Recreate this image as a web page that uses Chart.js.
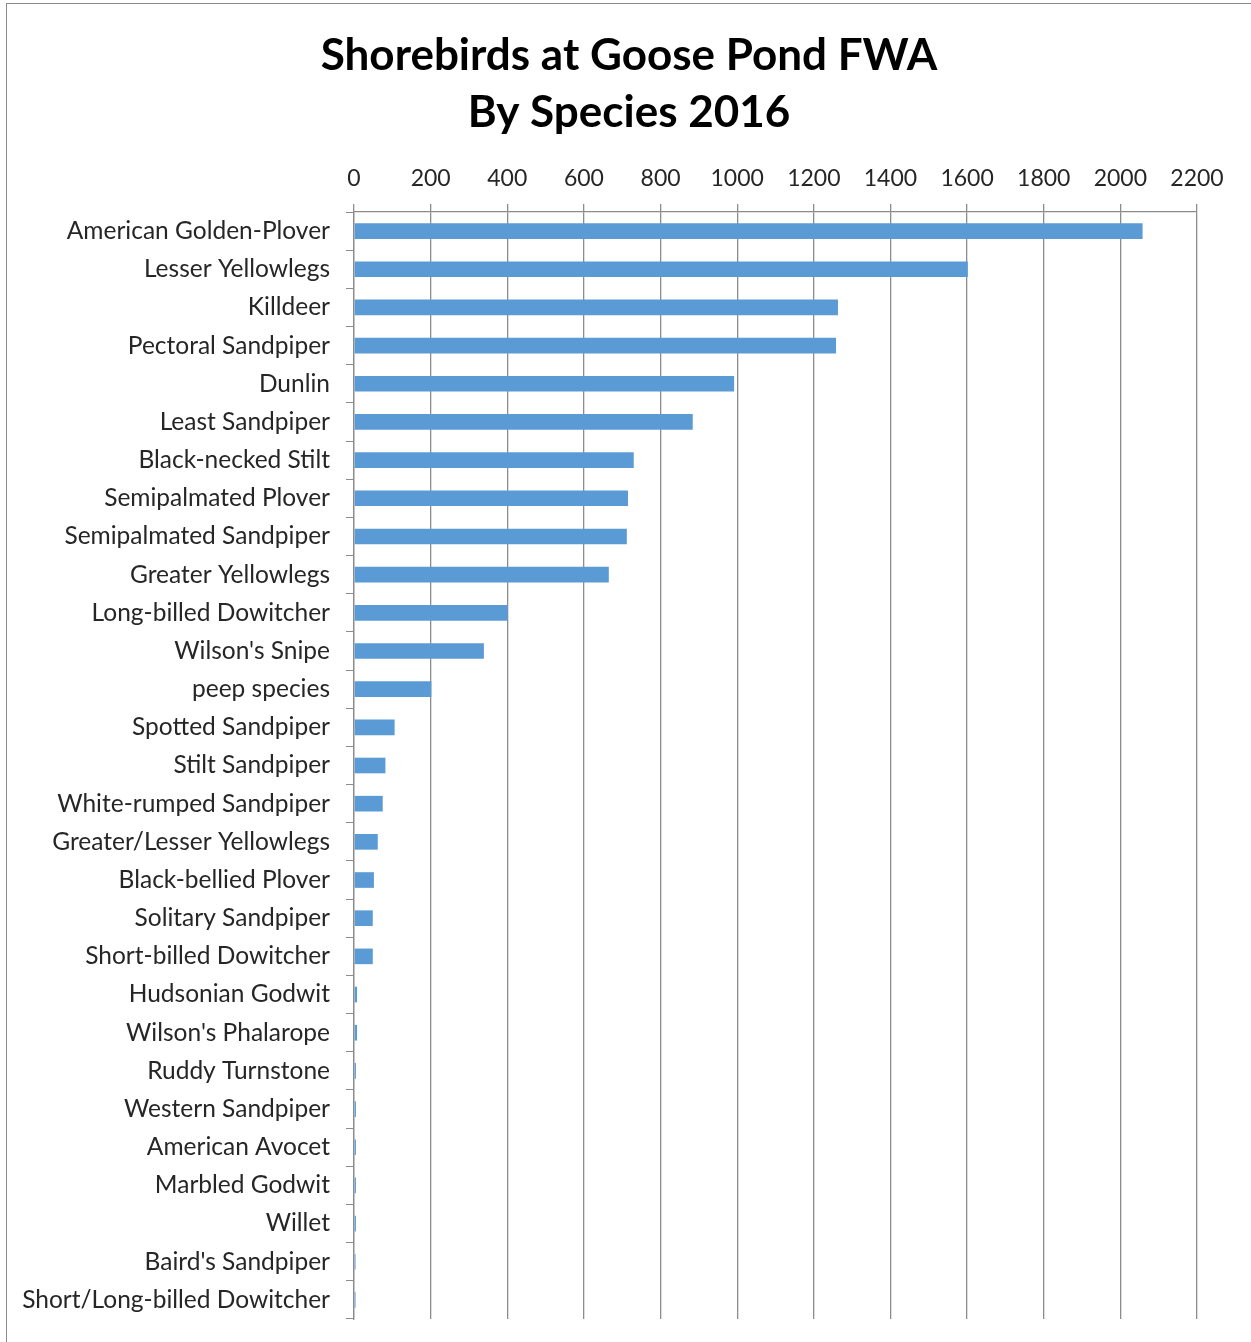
<!DOCTYPE html>
<html>
<head>
<meta charset="utf-8">
<script src="https://cdn.jsdelivr.net/npm/chart.js@4"></script>
<style>
    html, body { margin: 0; padding: 0; background: #fff; overflow: hidden; }
    #frame {
        position: absolute;
        left: 6px;
        top: 3px;
        width: 1260px;
        height: 1360px;
        border: 1px solid #8a8a8a;
        background: #fff;
    }
    #wrap { position: absolute; left: 0; top: 0; width: 1244px; height: 1338px; }
</style>
</head>
<body>
<div id="frame"><div id="wrap"><canvas id="birdChart"></canvas></div></div>
<script>
const species = [
    'American Golden-Plover', 'Lesser Yellowlegs', 'Killdeer', 'Pectoral Sandpiper',
    'Dunlin', 'Least Sandpiper', 'Black-necked Stilt', 'Semipalmated Plover',
    'Semipalmated Sandpiper', 'Greater Yellowlegs', 'Long-billed Dowitcher',
    "Wilson's Snipe", 'peep species', 'Spotted Sandpiper', 'Stilt Sandpiper',
    'White-rumped Sandpiper', 'Greater/Lesser Yellowlegs', 'Black-bellied Plover',
    'Solitary Sandpiper', 'Short-billed Dowitcher', 'Hudsonian Godwit',
    "Wilson's Phalarope", 'Ruddy Turnstone', 'Western Sandpiper', 'American Avocet',
    'Marbled Godwit', 'Willet', "Baird's Sandpiper", 'Short/Long-billed Dowitcher'
];
const counts = [
    2058, 1602, 1263, 1258, 992, 884, 730, 715, 712, 665, 401,
    339, 202, 106, 82, 75, 62, 52, 49, 49, 8,
    8, 5, 5, 5, 5, 5, 4, 4
];
const titleLines = ['Shorebirds at Goose Pond FWA', 'By Species 2016'];

document.addEventListener('DOMContentLoaded', function() {
    const ctx = document.getElementById('birdChart').getContext('2d');

    new Chart(ctx, {
        type: 'bar',
        data: {
            labels: species,
            datasets: [{
                label: 'Count',
                data: counts,
                backgroundColor: '#5B9BD5',
                categoryPercentage: 1,
                barPercentage: 0.41
            }]
        },
        options: {
            indexAxis: 'y',
            responsive: true,
            maintainAspectRatio: false,
            animation: false,
            layout: {
                padding: { left: 0, right: 0, top: 23, bottom: 0 }
            },
            scales: {
                x: {
                    position: 'top',
                    min: 0,
                    max: 2200,
                    ticks: {
                        stepSize: 200,
                        color: '#262626',
                        font: { family: 'Lato', size: 23 },
                        padding: 12,
                        callback: (value) => value
                    },
                    grid: {
                        color: '#8c8c8c',
                        lineWidth: 1.3,
                        tickLength: 8
                    },
                    border: { color: '#8c8c8c', width: 1.3 },
                    // room on the right so the title stays centred on the whole frame
                    afterFit: function(scale) { scale.paddingLeft = 0; scale.paddingRight = 54; }
                },
                y: {
                    ticks: {
                        autoSkip: false,
                        color: '#262626',
                        font: { family: 'Lato', size: 24.5 },
                        padding: 16
                    },
                    grid: {
                        offset: true,
                        drawOnChartArea: false,
                        color: '#8c8c8c',
                        tickLength: 8
                    },
                    border: { color: '#8c8c8c', width: 1.3 },
                    afterFit: function(scale) {
                        scale.width = 347;
                        scale.paddingTop = 0;
                        scale.paddingBottom = 23;
                    }
                }
            },
            plugins: {
                legend: { display: false },
                tooltip: { enabled: false },
                title: {
                    display: true,
                    text: titleLines,
                    color: '#000',
                    font: { family: 'Lato', size: 44, weight: 'bold', lineHeight: 1.3 },
                    padding: { top: 0, bottom: 11 }
                }
            }
        }
    });
});
</script>
</body>
</html>
